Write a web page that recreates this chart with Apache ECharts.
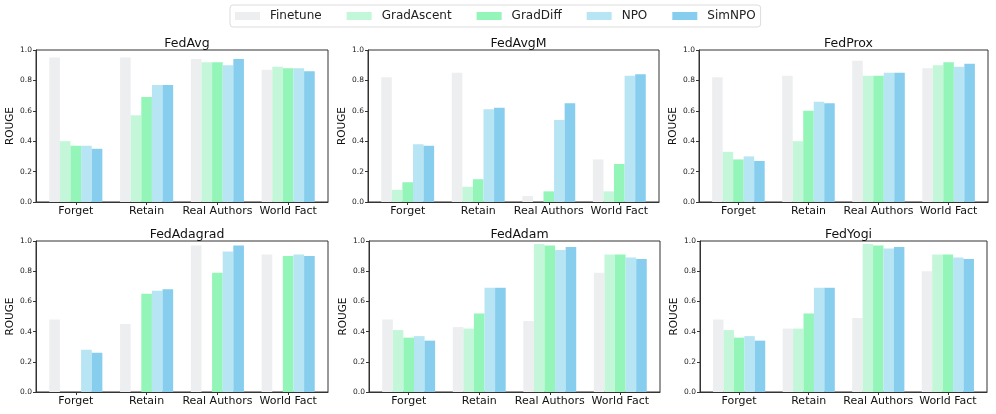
<!DOCTYPE html>
<html><head><meta charset="utf-8">
<script src="https://cdn.jsdelivr.net/npm/echarts@6/dist/echarts.min.js"></script>
<style>html,body{margin:0;padding:0;background:#fff}#c{width:996px;height:414px}</style>
</head><body><div id="c"></div>
<script>
const categories = ['Forget', 'Retain', 'Real Authors', 'World Fact'];
const methods = ['Finetune', 'GradAscent', 'GradDiff', 'NPO', 'SimNPO'];
const colors = ['#edeef0', '#c4f7da', '#93f5b8', '#b7e5f3', '#86cdee'];
const panelTitles = ['FedAvg', 'FedAvgM', 'FedProx', 'FedAdagrad', 'FedAdam', 'FedYogi'];
const yTicks = [0, 0.2, 0.4, 0.6, 0.8, 1.0];

// each row = one method (Finetune, GradAscent, GradDiff, NPO, SimNPO), columns = categories
const FedAvg = [
  [0.95, 0.95, 0.94, 0.87],
  [0.40, 0.57, 0.92, 0.89],
  [0.37, 0.69, 0.92, 0.88],
  [0.37, 0.77, 0.90, 0.88],
  [0.35, 0.77, 0.94, 0.86]
];
const FedAvgM = [
  [0.82, 0.85, 0.04, 0.28],
  [0.08, 0.10, 0.00, 0.07],
  [0.13, 0.15, 0.07, 0.25],
  [0.38, 0.61, 0.54, 0.83],
  [0.37, 0.62, 0.65, 0.84]
];
const FedProx = [
  [0.82, 0.83, 0.93, 0.88],
  [0.33, 0.40, 0.83, 0.90],
  [0.28, 0.60, 0.83, 0.92],
  [0.30, 0.66, 0.85, 0.89],
  [0.27, 0.65, 0.85, 0.91]
];
const FedAdagrad = [
  [0.48, 0.45, 0.97, 0.91],
  [0.00, 0.00, 0.00, 0.00],
  [0.00, 0.65, 0.79, 0.90],
  [0.28, 0.67, 0.93, 0.91],
  [0.26, 0.68, 0.97, 0.90]
];
const FedAdam = [
  [0.48, 0.43, 0.47, 0.79],
  [0.41, 0.42, 0.98, 0.91],
  [0.36, 0.52, 0.97, 0.91],
  [0.37, 0.69, 0.94, 0.89],
  [0.34, 0.69, 0.96, 0.88]
];
const FedYogi = [
  [0.48, 0.42, 0.49, 0.80],
  [0.41, 0.42, 0.98, 0.91],
  [0.36, 0.52, 0.97, 0.91],
  [0.37, 0.69, 0.95, 0.89],
  [0.34, 0.69, 0.96, 0.88]
];
const panels = [FedAvg, FedAvgM, FedProx, FedAdagrad, FedAdam, FedYogi];

const FONT = 'DejaVu Sans';
const grids = [
  {left: 36, top: 50, width: 292, height: 152},
  {left: 368, top: 50, width: 291, height: 152},
  {left: 699, top: 50, width: 289, height: 152},
  {left: 36, top: 241, width: 292, height: 151},
  {left: 369, top: 241, width: 291, height: 151},
  {left: 700, top: 241, width: 287, height: 151}
];
const catIdx = categories.map((c, i) => i);

const option = {
  animation: false,
  backgroundColor: '#fff',
  textStyle: {fontFamily: FONT},
  legend: {
    data: methods,
    left: 230, top: 5,
    icon: 'rect',
    itemWidth: 25, itemHeight: 8, itemGap: 25,
    borderColor: '#dcdcdc', borderWidth: 1, borderRadius: 3,
    padding: [5, 5],
    textStyle: {fontSize: 12, fontFamily: FONT, color: '#222', padding: [0, 0, 0, 5]}
  },
  title: panelTitles.map((t, i) => ({
    text: t,
    left: grids[i].left + grids[i].width / 2,
    top: grids[i].top - 18,
    textAlign: 'center',
    textStyle: {fontSize: 12.5, fontWeight: 'normal', fontFamily: FONT, color: '#111'}
  })),
  grid: grids.map(g => Object.assign({show: true, borderColor: '#333', borderWidth: 1, containLabel: false}, g)),
  xAxis: grids.map((g, i) => ({
    type: 'value', gridIndex: i,
    min: -0.5625, max: 3.5625,
    axisLine: {show: true, onZero: false, lineStyle: {color: '#333', width: 1}},
    axisTick: {show: true, customValues: catIdx, length: 3, lineStyle: {color: '#333'}},
    axisLabel: {show: true, customValues: catIdx, formatter: v => categories[Math.round(v)],
      fontSize: 11, fontFamily: FONT, color: '#111', margin: 4},
    splitLine: {show: false}
  })),
  yAxis: grids.map((g, i) => ({
    type: 'value', gridIndex: i,
    min: 0, max: 1, interval: 0.2,
    name: 'ROUGE', nameLocation: 'middle', nameGap: 19,
    nameTextStyle: {fontSize: 10.5, fontFamily: FONT, color: '#111'},
    axisLine: {show: true, onZero: false, lineStyle: {color: '#333', width: 1}},
    axisTick: {show: true, length: 3, lineStyle: {color: '#333'}},
    axisLabel: {fontSize: 7.5, fontFamily: FONT, color: '#222', margin: 4,
      formatter: v => v.toFixed(1)},
    splitLine: {show: false}
  })),
  series: []
};

panels.forEach((panel, p) => {
  methods.forEach((m, k) => {
    option.series.push({
      type: 'bar', name: m,
      xAxisIndex: p, yAxisIndex: p,
      data: categories.map((c, i) => [i, panel[k][i]]),
      itemStyle: {color: colors[k]},
      barGap: '0%', barCategoryGap: '25%',
      silent: true
    });
  });
});

const chart = echarts.init(document.getElementById('c'));
chart.setOption(option);
</script>
</body></html>
